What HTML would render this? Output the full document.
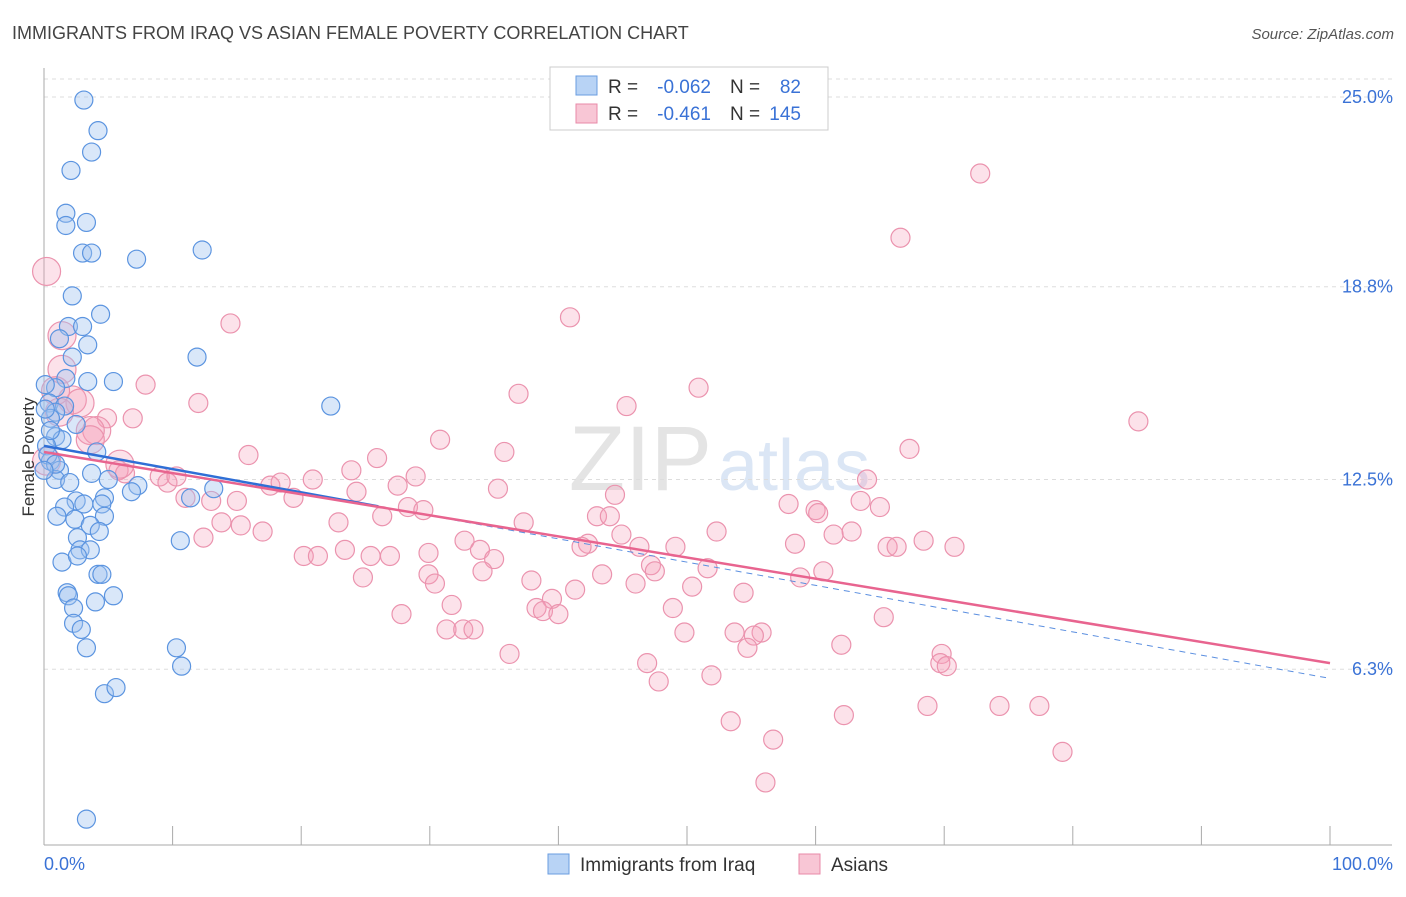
<!DOCTYPE html>
<html><head><meta charset="utf-8">
<style>
body{margin:0;background:#fff;font-family:"Liberation Sans",sans-serif;}
svg text{font-family:"Liberation Sans",sans-serif;}
</style></head>
<body>
<svg id="chart" width="1406" height="892" viewBox="0 0 1406 892" xmlns="http://www.w3.org/2000/svg">
<text x="12" y="39" font-size="18" fill="#444">IMMIGRANTS FROM IRAQ VS ASIAN FEMALE POVERTY CORRELATION CHART</text>
<text x="1394" y="39" font-size="15" fill="#555" text-anchor="end" font-style="italic">Source: ZipAtlas.com</text>
<text x="712" y="490" font-size="92" fill="#e4e4e4" text-anchor="end" font-family="Liberation Serif">ZIP</text>
<text x="718" y="490" font-size="72" fill="#dbe6f5">atlas</text>
<g id="grid"></g>
<g id="axes"></g>
<g id="points"></g>
<g id="trends"></g>
<text transform="translate(34,457) rotate(-90)" font-size="17" fill="#333" text-anchor="middle">Female Poverty</text>
<g>
<rect x="550" y="67" width="278" height="63" fill="#fff" stroke="#ccc"/>
<rect x="576" y="76" width="21" height="19" fill="#b8d3f5" stroke="#6a9de0"/>
<text x="608" y="93" font-size="19" fill="#333">R =</text>
<text x="711" y="93" font-size="19" fill="#3a72d6" text-anchor="end">-0.062</text>
<text x="730" y="93" font-size="19" fill="#333">N =</text>
<text x="801" y="93" font-size="19" fill="#3a72d6" text-anchor="end">82</text>
<rect x="576" y="104" width="21" height="19" fill="#f8c6d5" stroke="#e88aa8"/>
<text x="608" y="120" font-size="19" fill="#333">R =</text>
<text x="711" y="120" font-size="19" fill="#3a72d6" text-anchor="end">-0.461</text>
<text x="730" y="120" font-size="19" fill="#333">N =</text>
<text x="801" y="120" font-size="19" fill="#3a72d6" text-anchor="end">145</text>
</g>
<g>
<rect x="548" y="854" width="21" height="20" fill="#b8d3f5" stroke="#6a9de0"/>
<text x="580" y="871" font-size="19" fill="#333">Immigrants from Iraq</text>
<rect x="799" y="854" width="21" height="20" fill="#f8c6d5" stroke="#e88aa8"/>
<text x="831" y="871" font-size="19" fill="#333">Asians</text>
</g>
</svg>
<script>
const blueX=[3.1,4.2,3.7,2.1,1.7,1.7,3.3,3.0,3.7,7.2,12.3,2.2,4.4,1.9,3.0,3.4,1.2,2.2,11.9,1.7,3.4,5.4,0.9,22.3,0.4,1.6,0.9,0.5,2.5,0.9,1.4,0.2,4.1,0.5,1.2,3.7,0.9,2.0,5.0,7.3,6.8,11.4,13.2,2.5,4.7,1.6,3.1,4.5,1.0,2.4,4.7,3.6,4.3,2.6,2.8,3.6,10.6,1.4,2.6,4.2,4.5,1.8,1.9,5.4,4.0,2.3,2.3,2.9,3.3,10.3,10.7,4.7,5.6,3.3,0.1,0.1,0.5,0.3,0.9,0];
const blueY=[24.9,23.9,23.2,22.6,21.2,20.8,20.9,19.9,19.9,19.7,20.0,18.5,17.9,17.5,17.5,16.9,17.1,16.5,16.5,15.8,15.7,15.7,15.5,14.9,15.0,14.9,14.7,14.5,14.3,13.9,13.8,13.6,13.4,13.1,12.8,12.7,12.5,12.4,12.5,12.3,12.1,11.9,12.2,11.8,11.9,11.6,11.7,11.7,11.3,11.2,11.3,11.0,10.8,10.6,10.2,10.2,10.5,9.8,10.0,9.4,9.4,8.8,8.7,8.7,8.5,8.3,7.8,7.6,7.0,7.0,6.4,5.5,5.7,1.4,15.6,14.8,14.1,13.3,13.0,12.8];
const pinkX=[72.8,66.6,0.2,14.5,40.9,1.4,1.4,7.9,12.0,36.9,50.9,45.3,2.2,2.8,4.9,6.9,85.1,4.1,3.6,30.8,35.8,67.3,15.9,25.9,23.9,28.9,5.8,6.3,9.0,9.6,10.3,20.9,17.6,18.4,27.5,35.3,24.3,19.4,15.0,11.0,13.0,44.4,64.0,63.5,65.0,57.9,60.0,60.2,22.9,37.3,13.8,15.3,28.3,29.5,26.3,43.0,44.0,52.3,17.0,44.9,12.4,32.7,33.9,62.8,61.4,68.4,70.8,65.6,66.3,58.4,49.1,46.3,42.3,41.8,20.2,21.3,23.4,25.4,26.9,29.9,35.0,29.9,34.1,24.8,60.6,58.8,51.6,47.2,47.5,43.4,37.9,50.4,41.3,54.4,46.0,30.4,39.5,31.7,38.3,38.8,40.0,27.8,48.9,65.3,31.3,32.6,33.4,55.8,53.7,49.8,55.2,54.7,62.0,69.8,36.2,46.9,69.7,70.2,51.9,47.8,68.7,74.3,77.4,62.2,53.4,56.7,79.2,56.1,0.2,5.9,0.9,1.2,3.6];
const pinkY=[22.5,20.4,19.3,17.6,17.8,17.2,16.1,15.6,15.0,15.3,15.5,14.9,15.1,15.0,14.5,14.5,14.4,14.1,14.1,13.8,13.4,13.5,13.3,13.2,12.8,12.6,12.8,12.7,12.6,12.4,12.6,12.5,12.3,12.4,12.3,12.2,12.1,11.9,11.8,11.9,11.8,12.0,12.5,11.8,11.6,11.7,11.5,11.4,11.1,11.1,11.1,11.0,11.6,11.5,11.3,11.3,11.3,10.8,10.8,10.7,10.6,10.5,10.2,10.8,10.7,10.5,10.3,10.3,10.3,10.4,10.3,10.3,10.4,10.3,10.0,10.0,10.2,10.0,10.0,10.1,9.9,9.4,9.5,9.3,9.5,9.3,9.6,9.7,9.5,9.4,9.2,9.0,8.9,8.8,9.1,9.1,8.6,8.4,8.3,8.2,8.1,8.1,8.3,8.0,7.6,7.6,7.6,7.5,7.5,7.5,7.4,7.0,7.1,6.8,6.8,6.5,6.5,6.4,6.1,5.9,5.1,5.1,5.1,4.8,4.6,4.0,3.6,2.6,13.1,13.0,15.4,14.7,13.8];
const pinkBig=[2,5,6,12,13,17,18];
const yTicks=[25.0,18.8,12.5,6.3];
const yTickLabels=["25.0%","18.8%","12.5%","6.3%"];
const xTickVals=[0,10,20,30,40,50,60,70,80,90,100];
const blueTrend=[13.6,6.0];
const pinkTrend=[13.4,6.5];

const NS="http://www.w3.org/2000/svg";
const X0=44,X1=1330,Y0=97,YSTEP=30.6;
function sx(v){return X0+v*(X1-X0)/100;}
function sy(v){return Y0+(25-v)*YSTEP;}
function mk(tag,attrs,parent){const e=document.createElementNS(NS,tag);for(const k in attrs)e.setAttribute(k,attrs[k]);parent.appendChild(e);return e;}
const grid=document.getElementById('grid'),axes=document.getElementById('axes'),pts=document.getElementById('points'),tr=document.getElementById('trends');
const topLine=mk('line',{x1:X0,x2:1392,y1:79,y2:79,stroke:'#ddd','stroke-dasharray':'4,4'},grid);


yTicks.forEach((t,i)=>{
 const g=mk('line',{x1:X0,x2:1392,y1:sy(t),y2:sy(t),stroke:'#ddd','stroke-dasharray':'4,4'},grid);
 
 
 const l=mk('text',{x:1393,y:sy(t)+6,'font-size':18,fill:'#3a72d6','text-anchor':'end'},axes);
 l.textContent=yTickLabels[i];
 
 
});
const ya=mk('line',{x1:X0,x2:X0,y1:68,y2:845,stroke:'#aaa'},axes);


const xa=mk('line',{x1:X0,x2:1392,y1:845,y2:845,stroke:'#aaa'},axes);


xTickVals.forEach(v=>{
 const t=mk('line',{x1:sx(v),x2:sx(v),y1:826,y2:845,stroke:'#aaa'},axes);
 
 
});
const xl0=mk('text',{x:44,y:870,'font-size':18,fill:'#3a72d6'},axes);xl0.textContent='0.0%';


const xl1=mk('text',{x:1393,y:870,'font-size':18,fill:'#3a72d6','text-anchor':'end'},axes);xl1.textContent='100.0%';


pinkX.forEach((v,i)=>{
 const big=pinkBig.includes(i)||i>=pinkX.length-5;
 const c=mk('circle',{cx:sx(v),cy:sy(pinkY[i]),r:big?14:9.5,fill:'rgba(244,160,186,0.3)',stroke:'#eb93ae','stroke-width':1.2},pts);
 
 
});
blueX.forEach((v,i)=>{
 const c=mk('circle',{cx:sx(v),cy:sy(blueY[i]),r:9,fill:'rgba(160,196,240,0.4)',stroke:'#5b94e0','stroke-width':1.2},pts);
 
 
});
const bs=26;
const bmid=blueTrend[0]+(blueTrend[1]-blueTrend[0])*bs/100;
const b1=mk('line',{x1:sx(0),y1:sy(blueTrend[0]),x2:sx(bs),y2:sy(bmid),stroke:'#2f6fd6','stroke-width':2.5},tr);


const b2=mk('line',{x1:sx(bs),y1:sy(bmid),x2:sx(100),y2:sy(blueTrend[1]),stroke:'#5b8fe0','stroke-width':1,'stroke-dasharray':'6,5'},tr);


const p1=mk('line',{x1:sx(0),y1:sy(pinkTrend[0]),x2:sx(100),y2:sy(pinkTrend[1]),stroke:'#e8648f','stroke-width':2.5},tr);


</script>
</body></html>
